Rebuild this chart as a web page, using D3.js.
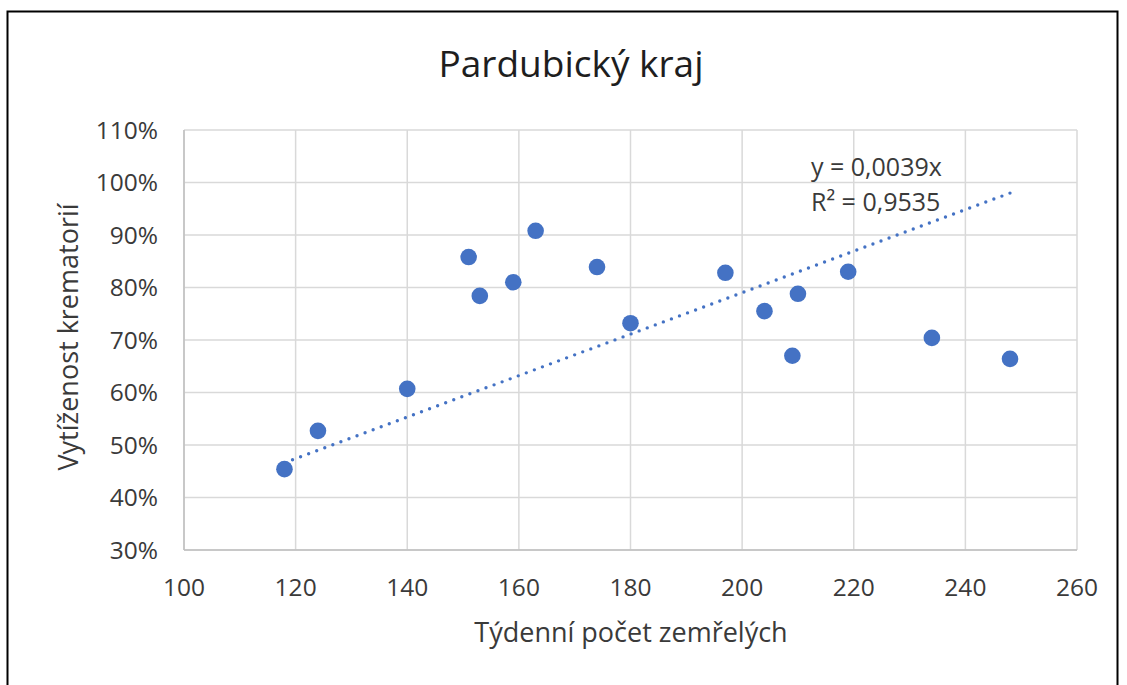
<!DOCTYPE html>
<html>
<head>
<meta charset="utf-8">
<script src="https://cdn.jsdelivr.net/npm/d3@7"></script>
<style>
  html, body { margin: 0; padding: 0; background: #fff; }
  svg { display: block; font-family: "Open Sans", "Noto Sans", sans-serif; }
</style>
</head>
<body>
<div id="chart"></div>
<script>
// weekly deaths vs crematorium load
const deaths = [118, 124, 140, 151, 153, 159, 163, 174, 180, 197, 204, 209, 210, 219, 234, 248];
const load = [0.454, 0.527, 0.607, 0.858, 0.784, 0.81, 0.908, 0.839, 0.732, 0.828, 0.755, 0.67, 0.788, 0.83, 0.704, 0.664];
const xTicks = [100, 120, 140, 160, 180, 200, 220, 240, 260];
const yTicks = [0.3, 0.4, 0.5, 0.6, 0.7, 0.8, 0.9, 1.0, 1.1];
const eqLines = ["y = 0,0039x", "R² = 0,9535"];

const W = 1127, H = 685;
const margin = { top: 130, right: 50, bottom: 135, left: 184 };
const blue = "#4472c4";
const textCol = "#3a3a3a";

const svg = d3.select("#chart").append("svg")
    .attr("width", W)
    .attr("height", H);

// outer frame
svg.append("rect")
    .attr("x", 7.5)
    .attr("y", 11.5)
    .attr("width", 1110)
    .attr("height", 690)
    .attr("fill", "#fff")
    .attr("stroke", "#000")
    .attr("stroke-width", 2);

const x = d3.scaleLinear().domain([100, 260]).range([margin.left, W - margin.right]);
const y = d3.scaleLinear().domain([0.3, 1.1]).range([H - margin.bottom, margin.top]);

// grid
svg.append("g")
    .selectAll("line")
    .data(yTicks)
    .join("line")
    .attr("x1", x(100)).attr("x2", x(260))
    .attr("y1", d => y(d)).attr("y2", d => y(d))
    .attr("stroke", "#d9d9d9")
    .attr("stroke-width", 1.5);

svg.append("g")
    .selectAll("line")
    .data(xTicks)
    .join("line")
    .attr("y1", y(0.3)).attr("y2", y(1.1))
    .attr("x1", d => x(d)).attr("x2", d => x(d))
    .attr("stroke", "#d9d9d9")
    .attr("stroke-width", 1.5);

// axis lines
svg.append("line")
    .attr("x1", x(100)).attr("x2", x(260))
    .attr("y1", y(0.3)).attr("y2", y(0.3))
    .attr("stroke", "#bfbfbf").attr("stroke-width", 1.5);
svg.append("line")
    .attr("x1", x(100)).attr("x2", x(100))
    .attr("y1", y(0.3)).attr("y2", y(1.1))
    .attr("stroke", "#bfbfbf").attr("stroke-width", 1.5);

// tick labels
const pct = d3.format(".0%");
svg.append("g")
    .selectAll("text")
    .data(yTicks)
    .join("text")
    .attr("x", 158)
    .attr("y", d => y(d))
    .attr("dy", "0.36em")
    .attr("text-anchor", "end")
    .attr("fill", textCol)
    .style("font-size", "24.5px")
    .text(d => pct(d));

svg.append("g")
    .selectAll("text")
    .data(xTicks)
    .join("text")
    .attr("x", d => x(d))
    .attr("y", 596)
    .attr("text-anchor", "middle")
    .attr("fill", textCol)
    .style("font-size", "24.5px")
    .text(d => d);

// trendline through origin (least squares)
const slope = d3.sum(deaths, (d, i) => d * load[i]) / d3.sum(deaths, d => d * d);
const xMin = d3.min(deaths), xMax = d3.max(deaths);
svg.append("line")
    .attr("x1", x(xMin)).attr("y1", y(slope * xMin))
    .attr("x2", x(xMax)).attr("y2", y(slope * xMax))
    .attr("stroke", blue)
    .attr("stroke-width", 3.4)
    .attr("stroke-linecap", "round")
    .attr("stroke-dasharray", "0 8.6");

// points
svg.append("g")
    .selectAll("circle")
    .data(deaths)
    .join("circle")
    .attr("cx", d => x(d))
    .attr("cy", (d, i) => y(load[i]))
    .attr("r", 8.3)
    .attr("fill", blue);

// equation
svg.append("g")
    .selectAll("text")
    .data(eqLines)
    .join("text")
    .attr("x", 811)
    .attr("y", (d, i) => 176 + i * 35)
    .attr("fill", textCol)
    .style("font-size", "25px")
    .text(d => d);

// titles
svg.append("text")
    .attr("x", 571)
    .attr("y", 77)
    .attr("text-anchor", "middle")
    .attr("fill", "#1e1e1e")
    .style("font-size", "37px")
    .text("Pardubický kraj");

svg.append("text")
    .attr("x", 631)
    .attr("y", 642)
    .attr("text-anchor", "middle")
    .attr("fill", textCol)
    .style("font-size", "27px")
    .text("Týdenní počet zemřelých");

svg.append("text")
    .attr("transform", "translate(78,337) rotate(-90)")
    .attr("text-anchor", "middle")
    .attr("fill", textCol)
    .style("font-size", "27px")
    .text("Vytíženost krematorií");
</script>
</body>
</html>
